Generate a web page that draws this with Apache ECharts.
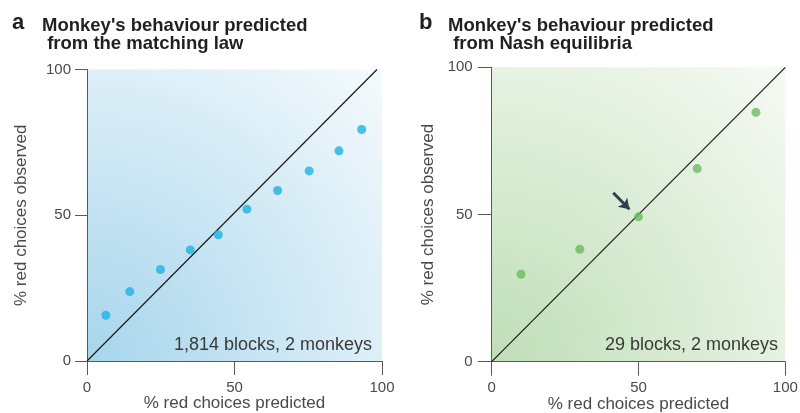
<!DOCTYPE html>
<html>
<head>
<meta charset="utf-8">
<script src="https://cdn.jsdelivr.net/npm/echarts@6/dist/echarts.min.js"></script>
<style>
  html, body { margin: 0; padding: 0; background: #fff; }
  #chart { width: 800px; height: 413px; }
</style>
</head>
<body>
<div id="chart"></div>
<script>
// Panel a: observed vs matching-law prediction (% red choices)
const matchPredicted = [6.4, 14.5, 24.9, 35.0, 44.5, 54.2, 64.6, 75.3, 85.4, 93.1];
const matchObserved  = [15.7, 23.8, 31.4, 38.1, 43.3, 52.1, 58.5, 65.2, 72.1, 79.4];

// Panel b: observed vs Nash-equilibrium prediction (% red choices)
const nashPredicted = [10, 30, 50, 70, 90];
const nashObserved  = [29.7, 38.2, 49.2, 65.6, 84.7];

// Identity lines and the arrow pointing at the 50% Nash block
const identityA = [[0, 0], [98.3, 100]];
const identityB = [[0, 0], [100, 100]];
const arrowB = [[41.4, 57.4], [46.9, 51.8]];

const axisTicks = [0, 50, 100];
const xTitle = '% red choices predicted';
const yTitle = '% red choices observed';

const FONT = '"Liberation Sans", Arial, sans-serif';
const TEXT = '#4a4a4a';
const AXIS = '#5a5a5a';

function pair(xs, ys) { return xs.map((x, i) => [x, ys[i]]); }

function shade(inner, outer) {
  return {
    type: 'radial', x: 0, y: 1, r: 1.45,
    colorStops: [
      { offset: 0, color: inner },
      { offset: 1, color: outer }
    ]
  };
}

function xAxisFor(idx, gap) {
  return {
    gridIndex: idx, type: 'value', min: 0, max: 100, interval: 50,
    name: xTitle, nameLocation: 'middle', nameGap: gap, nameMoveOverlap: false,
    nameTextStyle: { fontFamily: FONT, fontSize: 17, color: TEXT },
    axisLine: { show: true, lineStyle: { color: AXIS, width: 1 } },
    axisTick: { show: true, length: 14, lineStyle: { color: AXIS, width: 1 } },
    axisLabel: { fontFamily: FONT, fontSize: 15, color: TEXT, margin: 19,
      formatter: v => axisTicks.includes(v) ? String(v) : '' },
    splitLine: { show: false }
  };
}

function yAxisFor(idx, gap, tickLen, margin) {
  return {
    gridIndex: idx, type: 'value', min: 0, max: 100, interval: 50,
    name: yTitle, nameLocation: 'middle', nameGap: gap, nameRotate: 90,
    nameMoveOverlap: false,
    nameTextStyle: { fontFamily: FONT, fontSize: 17, color: TEXT },
    axisLine: { show: true, lineStyle: { color: AXIS, width: 1 } },
    axisTick: { show: true, length: tickLen, lineStyle: { color: AXIS, width: 1 } },
    axisLabel: { fontFamily: FONT, fontSize: 15, color: TEXT, margin: margin,
      formatter: v => axisTicks.includes(v) ? String(v) : '' },
    splitLine: { show: false }
  };
}

const chart = echarts.init(document.getElementById('chart'), null, { renderer: 'canvas' });

chart.setOption({
  animation: false,
  backgroundColor: '#ffffff',
  grid: [
    { left: 87, top: 69.5, width: 295, height: 291.5, show: true, borderWidth: 0,
      containLabel: false, outerBoundsMode: 'none',
      backgroundColor: shade('#a6d5ec', '#f7fbfd') },
    { left: 491.7, top: 67.3, width: 293.6, height: 294.4, show: true, borderWidth: 0,
      containLabel: false, outerBoundsMode: 'none',
      backgroundColor: shade('#bfdeb7', '#f8fbf6') }
  ],
  xAxis: [xAxisFor(0, 34), xAxisFor(1, 34)],
  yAxis: [yAxisFor(0, 57, 12, 16), yAxisFor(1, 55, 14, 19)],
  series: [
    {
      type: 'line', xAxisIndex: 0, yAxisIndex: 0, data: identityA,
      symbol: 'none', silent: true,
      lineStyle: { color: '#1a1a1a', width: 1.2 }, z: 2
    },
    {
      type: 'scatter', xAxisIndex: 0, yAxisIndex: 0,
      data: pair(matchPredicted, matchObserved),
      symbolSize: 9, itemStyle: { color: '#1db3e2' }, z: 3
    },
    {
      type: 'line', xAxisIndex: 1, yAxisIndex: 1, data: identityB,
      symbol: 'none', silent: true,
      lineStyle: { color: '#1a1a1a', width: 1.2 }, z: 2
    },
    {
      type: 'scatter', xAxisIndex: 1, yAxisIndex: 1,
      data: pair(nashPredicted, nashObserved),
      symbolSize: 9, itemStyle: { color: '#6cbc60' }, z: 3,
      markLine: {
        silent: true, animation: false,
        symbol: ['none', 'arrow'], symbolSize: [10, 10],
        label: { show: false },
        lineStyle: { color: '#2c4152', width: 3, type: 'solid' },
        data: [[{ coord: arrowB[0] }, { coord: arrowB[1] }]]
      }
    }
  ],
  graphic: [
    { type: 'text', left: 12, top: 12,
      style: { text: 'a', font: 'bold 22px ' + FONT, fill: '#231f20' } },
    { type: 'text', left: 42, top: 16,
      style: { text: "Monkey's behaviour predicted\n from the matching law",
        font: 'bold 18.5px ' + FONT, fill: '#231f20', lineHeight: 18 } },
    { type: 'text', left: 419, top: 12,
      style: { text: 'b', font: 'bold 22px ' + FONT, fill: '#231f20' } },
    { type: 'text', left: 448, top: 16,
      style: { text: "Monkey's behaviour predicted\n from Nash equilibria",
        font: 'bold 18.5px ' + FONT, fill: '#231f20', lineHeight: 18 } },
    { type: 'text', right: 800 - 372, top: 336,
      style: { text: '1,814 blocks, 2 monkeys', font: '18px ' + FONT, fill: '#3a3a3a',
        textAlign: 'right' } },
    { type: 'text', right: 800 - 778, top: 336,
      style: { text: '29 blocks, 2 monkeys', font: '18px ' + FONT, fill: '#3a3a3a',
        textAlign: 'right' } }
  ]
});
</script>
</body>
</html>
